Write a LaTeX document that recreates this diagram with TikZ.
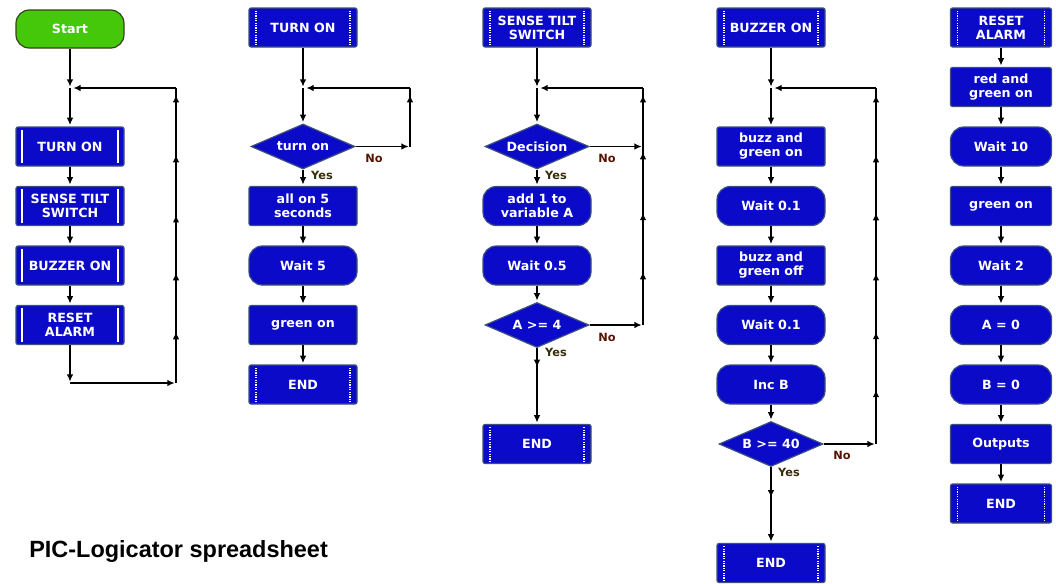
\documentclass[tikz,border=0pt]{standalone}
\usepackage{fontspec}
\setmainfont{DejaVu Sans}
\newfontfamily\titlefont{Liberation Sans}
\usetikzlibrary{arrows.meta,shapes.geometric,decorations.markings}
\definecolor{boxblue}{RGB}{10,10,200}
\definecolor{boxedge}{RGB}{60,80,125}
\definecolor{startgreen}{RGB}{70,200,10}
\definecolor{startedge}{RGB}{55,65,25}
\definecolor{nocol}{RGB}{85,20,0}
\definecolor{yescol}{RGB}{55,45,10}
\begin{document}
\begin{tikzpicture}[x=0.75pt,y=-0.75pt,>={Latex[length=5.5pt,width=5pt]},
  base/.style={fill=boxblue, draw=boxedge, line width=0.9pt, text=white,
    font=\bfseries\fontsize{9.5}{10.5}\selectfont, align=center,
    minimum width=81pt, minimum height=29.25pt, inner sep=0pt},
  proc/.style={base, rounded corners=1.5pt},
  term/.style={base, rounded corners=10pt},
  subA/.style={base, rounded corners=1.5pt, path picture={
    \draw[white, line width=1.4pt]
      ([xshift=4.8pt,yshift=-2pt]path picture bounding box.north west) --
      ([xshift=4.8pt,yshift=2pt]path picture bounding box.south west);
    \draw[white, line width=1.4pt]
      ([xshift=-4.8pt,yshift=-2pt]path picture bounding box.north east) --
      ([xshift=-4.8pt,yshift=2pt]path picture bounding box.south east);}},
  subB/.style={base, rounded corners=1.5pt, path picture={
    \draw[white, line width=1.2pt, dash pattern=on 0.9pt off 0.9pt]
      ([xshift=5.2pt,yshift=-2pt]path picture bounding box.north west) --
      ([xshift=5.2pt,yshift=2pt]path picture bounding box.south west);
    \draw[white, line width=1.2pt, dash pattern=on 0.9pt off 0.9pt]
      ([xshift=-5.2pt,yshift=-2pt]path picture bounding box.north east) --
      ([xshift=-5.2pt,yshift=2pt]path picture bounding box.south east);}},
  dec/.style={shape=diamond, fill=boxblue, draw=boxedge, line width=0.9pt, text=white,
    font=\bfseries\fontsize{9.5}{10.5}\selectfont,
    minimum width=78pt, minimum height=33.75pt, inner sep=0pt},
  startbox/.style={fill=startgreen, draw=startedge, line width=0.9pt, text=white,
    font=\bfseries\fontsize{9.5}{10.5}\selectfont, rounded corners=10pt,
    minimum width=81pt, minimum height=28.5pt, inner sep=0pt},
  narrow/.style={minimum width=75.75pt},
  plain/.style={draw, line width=1.35pt},
  flow/.style={plain, ->, shorten >=1pt},
  marks/.style={postaction={decorate}, decoration={markings, #1}},
  nolab/.style={text=nocol, font=\bfseries\fontsize{8.5}{9}\selectfont, inner sep=0pt},
  yeslab/.style={text=yescol, font=\bfseries\fontsize{8.5}{9}\selectfont, inner sep=0pt}
]
\fill[white] (0,0) rectangle (1056,583);
\useasboundingbox (0,0) rectangle (1056,583);

% ---------- column 1 ----------
\node[startbox] (start) at (70,29) {Start};
\node[subA] (a1) at (70,146.5) {TURN ON};
\node[subA] (a2) at (70,206) {SENSE TILT\\SWITCH};
\node[subA] (a3) at (70,265.5) {BUZZER ON};
\node[subA] (a4) at (70,325) {RESET\\ALARM};
\coordinate (j1) at (70,88);
\coordinate (b1) at (70,383);
\coordinate (b1r) at (176,383);
\coordinate (t1r) at (176,88);
\draw[flow] (start) -- (j1);
\draw[flow] (j1) -- (a1);
\draw[flow] (a1) -- (a2);
\draw[flow] (a2) -- (a3);
\draw[flow] (a3) -- (a4);
\draw[flow] (a4) -- (b1);
\draw[flow] (b1) -- (b1r);
\draw[plain, marks={mark=at position 0.173 with {\arrow{>}}, mark=at position 0.373 with {\arrow{>}},
  mark=at position 0.569 with {\arrow{>}}, mark=at position 0.773 with {\arrow{>}},
  mark=at position 0.976 with {\arrow{>}}}] (b1r) -- (t1r);
\draw[flow, shorten >=2.5pt] (t1r) -- (j1);

% ---------- column 2 ----------
\node[subB] (h2) at (303,27.5) {TURN ON};
\node[dec] (d2) at (303,146.5) {\makebox[0pt]{turn on}};
\node[proc] (p2) at (303,206) {all on 5\\seconds};
\node[term] (w2) at (303,265.5) {Wait 5};
\node[proc] (g2) at (303,325) {green on};
\node[subB] (e2) at (303,384.5) {END};
\coordinate (j2) at (303,88);
\coordinate (c2r) at (410,146.5);
\coordinate (c2t) at (410,88);
\draw[flow] (h2) -- (j2);
\draw[flow] (j2) -- (d2);
\draw[flow] (d2.east) -- (c2r);
\draw[plain, marks={mark=at position 0.88 with {\arrow{>}}}] (c2r) -- (c2t);
\draw[flow, shorten >=2.5pt] (c2t) -- (j2);
\draw[flow] (d2) -- (p2);
\draw[flow] (p2) -- (w2);
\draw[flow] (w2) -- (g2);
\draw[flow] (g2) -- (e2);
\node[nolab] (n2) at (374,158) {No};
\node[yeslab] (y2) at (322,175) {Yes};

% ---------- column 3 ----------
\node[subB] (h3) at (537,27.5) {SENSE TILT\\SWITCH};
\node[dec] (d3) at (537,146.5) {\makebox[0pt]{Decision}};
\node[term] (p3) at (537,206) {add 1 to\\variable A};
\node[term] (w3) at (537,265.5) {Wait 0.5};
\node[dec] (q3) at (537,325) {\makebox[0pt]{A >= 4}};
\node[subB] (e3) at (537,444) {END};
\coordinate (j3) at (537,88);
\coordinate (c3a) at (643,146.5);
\coordinate (c3b) at (643,325);
\coordinate (c3t) at (643,88);
\draw[flow] (h3) -- (j3);
\draw[flow] (j3) -- (d3);
\draw[flow] (d3.east) -- (c3a);
\draw[flow] (q3.east) -- (c3b);
\draw[plain, marks={mark=at position 0.224 with {\arrow{>}}, mark=at position 0.473 with {\arrow{>}},
  mark=at position 0.730 with {\arrow{>}}, mark=at position 0.970 with {\arrow{>}}}] (c3b) -- (c3t);
\draw[flow, shorten >=2.5pt] (c3t) -- (j3);
\draw[flow] (d3) -- (p3);
\draw[flow] (p3) -- (w3);
\draw[flow] (w3) -- (q3);
\draw[flow, marks={mark=at position 0.25 with {\arrow{>}}}] (q3) -- (e3);
\node[nolab] (n3a) at (607,158) {No};
\node[yeslab] (y3a) at (556,175) {Yes};
\node[nolab] (n3b) at (607,337) {No};
\node[yeslab] (y3b) at (556,352) {Yes};

% ---------- column 4 ----------
\node[subB] (h4) at (771,27.5) {BUZZER ON};
\node[proc] (p4a) at (771,146.5) {buzz and\\green on};
\node[term] (w4a) at (771,206) {Wait 0.1};
\node[proc] (p4b) at (771,265.5) {buzz and\\green off};
\node[term] (w4b) at (771,325) {Wait 0.1};
\node[term] (i4) at (771,384.5) {Inc B};
\node[dec] (d4) at (771,444) {\makebox[0pt]{B >= 40}};
\node[subB] (e4) at (771,563) {END};
\coordinate (j4) at (771,88);
\coordinate (c4r) at (876,444);
\coordinate (c4t) at (876,88);
\draw[flow] (h4) -- (j4);
\draw[flow] (j4) -- (p4a);
\draw[flow] (p4a) -- (w4a);
\draw[flow] (w4a) -- (p4b);
\draw[flow] (p4b) -- (w4b);
\draw[flow] (w4b) -- (i4);
\draw[flow] (i4) -- (d4);
\draw[flow] (d4.east) -- (c4r);
\draw[plain, marks={mark=at position 0.152 with {\arrow{>}}, mark=at position 0.315 with {\arrow{>}},
  mark=at position 0.480 with {\arrow{>}}, mark=at position 0.649 with {\arrow{>}},
  mark=at position 0.812 with {\arrow{>}}, mark=at position 0.980 with {\arrow{>}}}] (c4r) -- (c4t);
\draw[flow, shorten >=2.5pt] (c4t) -- (j4);
\draw[flow, marks={mark=at position 0.40 with {\arrow{>}}}] (d4) -- (e4);
\node[nolab] (n4) at (842,455) {No};
\node[yeslab] (y4) at (789,472) {Yes};

% ---------- column 5 ----------
\node[subB, narrow] (h5) at (1001,27.5) {RESET\\ALARM};
\node[proc, narrow] (p5a) at (1001,87) {red and\\green on};
\node[term, narrow] (w5a) at (1001,146.5) {Wait 10};
\node[proc, narrow] (p5b) at (1001,206) {green on};
\node[term, narrow] (w5b) at (1001,265.5) {Wait 2};
\node[term, narrow] (a5) at (1001,325) {A = 0};
\node[term, narrow] (b5) at (1001,384.5) {B = 0};
\node[proc, narrow] (o5) at (1001,444) {Outputs};
\node[subB, narrow] (e5) at (1001,503.5) {END};
\draw[flow] (h5) -- (p5a);
\draw[flow] (p5a) -- (w5a);
\draw[flow] (w5a) -- (p5b);
\draw[flow] (p5b) -- (w5b);
\draw[flow] (w5b) -- (a5);
\draw[flow] (a5) -- (b5);
\draw[flow] (b5) -- (o5);
\draw[flow] (o5) -- (e5);

% ---------- caption ----------
\node[anchor=base west, inner sep=0pt, font=\titlefont\bfseries\fontsize{17.6}{20}\selectfont] (title) at (29,557) {PIC-Logicator spreadsheet};
\end{tikzpicture}
\end{document}
